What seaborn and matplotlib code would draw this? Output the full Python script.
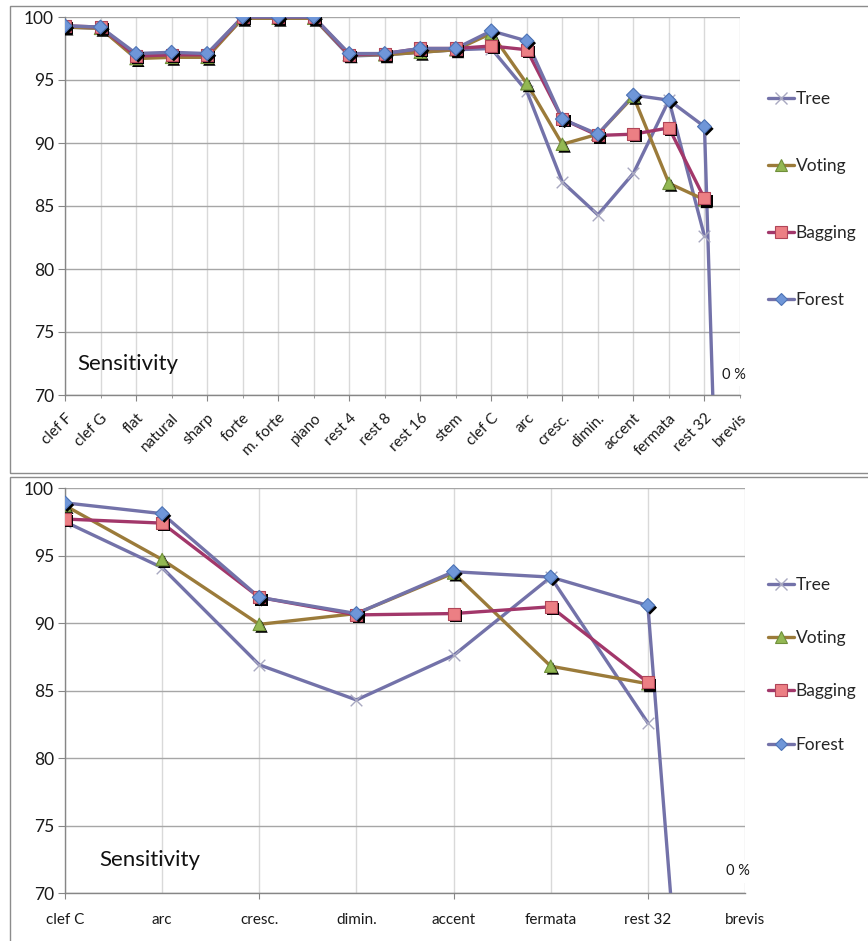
import numpy as np
import pandas as pd
import matplotlib
matplotlib.use("Agg")
import matplotlib.pyplot as plt
import matplotlib.patheffects as pe
from matplotlib.lines import Line2D
from matplotlib.patches import Rectangle
import seaborn as sns

sns.set_style("white")
plt.rcParams["font.family"] = ["Lato", "DejaVu Sans"]

# data (sensitivity %, per symbol class)
categories = ["clef F", "clef G", "flat", "natural", "sharp", "forte", "m. forte",
              "piano", "rest 4", "rest 8", "rest 16", "stem", "clef C", "arc",
              "cresc.", "dimin.", "accent", "fermata", "rest 32", "brevis"]
tree = [99.2, 99.1, 96.8, 96.8, 96.9, 99.9, 99.9, 99.9, 96.9, 97.0, 97.2, 97.4,
        97.5, 94.1, 86.9, 84.3, 87.6, 93.4, 82.6, np.nan]
voting = [99.2, 99.1, 96.7, 96.8, 96.8, 99.9, 99.9, 99.9, 97.0, 97.0, 97.2, 97.4,
          98.7, 94.7, 89.9, 90.7, 93.7, 86.8, 85.5, np.nan]
bagging = [99.3, 99.2, 96.9, 97.0, 97.0, 100.0, 100.0, 100.0, 97.0, 97.1, 97.5, 97.5,
           97.7, 97.4, 91.9, 90.6, 90.7, 91.2, 85.6, np.nan]
forest = [99.3, 99.2, 97.1, 97.2, 97.1, 100.0, 100.0, 100.0, 97.1, 97.1, 97.5, 97.5,
          98.9, 98.1, 91.9, 90.7, 93.8, 93.4, 91.3, 0.0]
zoom_start = categories.index("clef C")

series = {"Tree": tree, "Voting": voting, "Bagging": bagging, "Forest": forest}
styles = {
    "Tree": dict(color="#7372A9", marker="x", mfc="#A8A8C0", mec="#A8A8C0", s=70),
    "Voting": dict(color="#9B7B3A", marker="^", mfc="#93B853", mec="#6F8F3A", s=80),
    "Bagging": dict(color="#A2376A", marker="s", mfc="#EC7F84", mec="#B04558", s=75),
    "Forest": dict(color="#7372A9", marker="D", mfc="#6F96D8", mec="#4D73B5", s=50),
}

fig = plt.figure(figsize=(8.68, 9.41), dpi=100)
W, H = 868, 941

# chart-area frames
for (x0, y0, x1, y1) in [(10, 6, 875, 473), (10, 477, 875, 950)]:
    fig.patches.append(Rectangle((x0 / W, 1 - y1 / H), (x1 - x0) / W, (y1 - y0) / H,
                                 transform=fig.transFigure, fill=False,
                                 edgecolor="#8C8C8C", lw=1))

ax_top = fig.add_axes([65 / W, 1 - 395 / H, 675 / W, 378 / H])
ax_bot = fig.add_axes([65 / W, 1 - 893 / H, 680 / W, 405 / H])

shadow = [pe.SimplePatchShadow(offset=(1.6, -1.6), shadow_rgbFace="black", alpha=1.0),
          pe.Normal()]


def draw(ax, cats, start, rotate):
    x = np.arange(len(cats))
    for name, vals in series.items():
        st = styles[name]
        df = pd.DataFrame({"x": x, "y": vals[start:start + len(cats)]}).dropna()
        sns.lineplot(data=df, x="x", y="y", ax=ax, color=st["color"], lw=2.4,
                     legend=False, zorder=3)
        if st["marker"] == "x":
            sns.scatterplot(data=df, x="x", y="y", ax=ax, marker="x", color=st["mfc"],
                            s=st["s"], linewidth=1.0, legend=False, zorder=4)
        else:
            sns.scatterplot(data=df[df["y"] > 0], x="x", y="y", ax=ax, marker=st["marker"],
                            color=st["mfc"], edgecolor=st["mec"], linewidth=0.8,
                            s=st["s"], legend=False, zorder=4, path_effects=shadow)
    ax.set_xlim(0, len(cats) - 1)
    ax.set_ylim(70, 100)
    ax.set_yticks(range(70, 101, 5))
    ax.set_xlabel("")
    ax.set_ylabel("")
    major = x[::2]
    minor = x[1::2]
    ax.set_xticks(major, [cats[i] for i in major])
    ax.set_xticks(minor, [cats[i] for i in minor], minor=True)
    ax.grid(axis="y", color="#A6A6A6", lw=1)
    ax.grid(axis="x", which="both", color="#D9D9D9", lw=1)
    ax.set_axisbelow(True)
    for side in ["top", "right"]:
        ax.spines[side].set_visible(False)
    for side in ["left", "bottom"]:
        ax.spines[side].set_color("#868686")
        ax.spines[side].set_linewidth(1)
    ax.tick_params(axis="y", length=5, color="#868686", labelsize=12.5,
                   labelcolor="#1A1A1A", pad=3, left=True)
    major_len = 4.5
    minor_len = 2 if rotate else 0
    base_pad = 7 if rotate else 10
    ax.tick_params(axis="x", which="major", length=major_len, color="#868686",
                   bottom=True, pad=base_pad)
    ax.tick_params(axis="x", which="minor", length=minor_len, color="#868686",
                   bottom=True, pad=base_pad + major_len - minor_len)
    labs = ax.get_xticklabels() + ax.get_xticklabels(minor=True)
    for t in labs:
        t.set_color("#1A1A1A")
        if rotate:
            t.set_fontsize(11)
            t.set_rotation(45)
            t.set_ha("right")
            t.set_va("top")
            t.set_rotation_mode("anchor")
        else:
            t.set_fontsize(11)


draw(ax_top, categories, 0, True)
draw(ax_bot, categories[zoom_start:], zoom_start, False)

ax_top.text(0.018, 0.082, "Sensitivity", transform=ax_top.transAxes, fontsize=16,
            va="center", ha="left", color="#111111")
ax_bot.text(0.051, 0.081, "Sensitivity", transform=ax_bot.transAxes, fontsize=16,
            va="center", ha="left", color="#111111")

box = dict(facecolor="white", edgecolor="none", pad=3)
ax_top.text(18.48, 71.6, "0 %", fontsize=10.5, ha="left", va="center",
            color="#1A1A1A", bbox=box, zorder=6, clip_on=False)
ax_bot.text(6.8, 71.6, "0 %", fontsize=10.5, ha="left", va="center",
            color="#1A1A1A", bbox=box, zorder=6, clip_on=False)

handles = []
for name in series:
    st = styles[name]
    handles.append(Line2D([], [], color=st["color"], lw=2.4, marker=st["marker"],
                          markersize=8 if st["marker"] != "D" else 6.5,
                          markerfacecolor=st["mfc"], markeredgecolor=st["mec"],
                          markeredgewidth=0.8 if st["marker"] != "x" else 1.0))

fig.legend(handles, list(series), loc="upper left",
           bbox_to_anchor=(759 / W, 1 - 82 / H), frameon=False, fontsize=12.5,
           handlelength=1.5, handletextpad=0.1, labelspacing=2.95, borderpad=0)
fig.legend(handles, list(series), loc="upper left",
           bbox_to_anchor=(759 / W, 1 - 568 / H), frameon=False, fontsize=12.5,
           handlelength=1.5, handletextpad=0.1, labelspacing=2.15, borderpad=0)

fig.savefig("out.png", dpi=100)
